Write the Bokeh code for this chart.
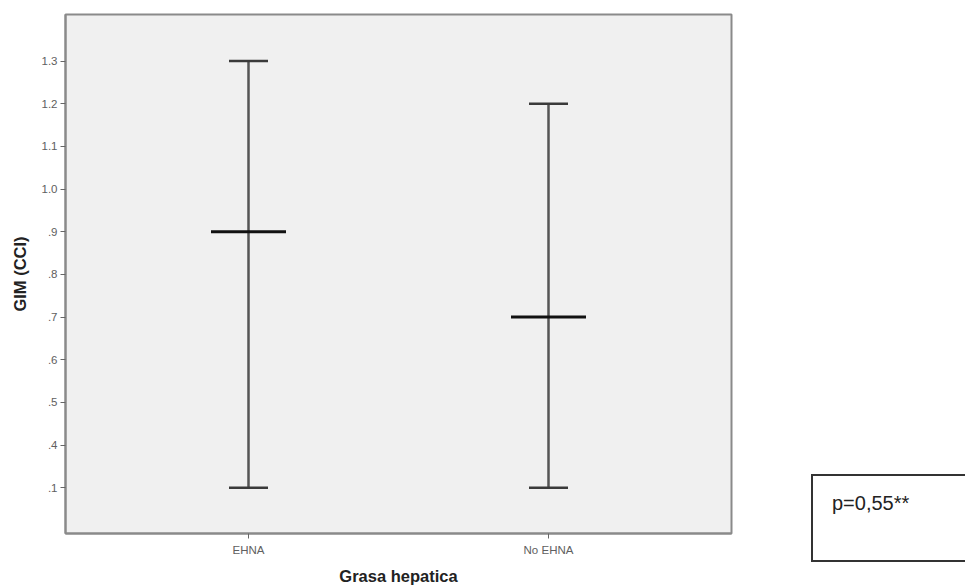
from bokeh.plotting import figure
from bokeh.models import FactorRange, Range1d, FixedTicker, Div
from bokeh.layouts import row
from bokeh.embed import file_html
from bokeh.resources import INLINE

# ---- data ----
groups = ["EHNA", "No EHNA"]
means = [0.9, 0.7]
upper = [1.3, 1.2]
lower = [0.1, 0.1]
y_tick_labels = ["1.3", "1.2", "1.1", "1.0", ".9", ".8", ".7", ".6", ".5", ".4", ".1"]
y_tick_values = [1.3, 1.2, 1.1, 1.0, 0.9, 0.8, 0.7, 0.6, 0.5, 0.4, 0.1]
annotation_text = "p=0,55**"
x_title = "Grasa hepatica"
y_title = "GIM (CCI)"

# the axis places its ticks evenly: map each tick value to its slot on the axis
slot_of = {v: i for i, v in enumerate(reversed(y_tick_values))}
ys_mean = [slot_of[v] for v in means]
ys_up = [slot_of[v] for v in upper]
ys_lo = [slot_of[v] for v in lower]

FONT = "Liberation Sans"

p = figure(width=760, height=588, output_backend="svg", toolbar_location=None,
           x_range=FactorRange(*groups, range_padding=0.11, range_padding_units="absolute"),
           y_range=Range1d(-1.07, 11.09),
           min_border_left=65, min_border_right=29, min_border_top=14, min_border_bottom=55)

p.background_fill_color = "#f0f0f0"
p.border_fill_color = "white"
p.outline_line_color = "#8a8a8a"
p.outline_line_width = 2
p.xgrid.visible = False
p.ygrid.visible = False

for ax in (p.xaxis[0], p.yaxis[0]):
    ax.axis_line_color = "#8a8a8a"
    ax.axis_line_width = 2
    ax.major_tick_line_color = "#666666"
    ax.major_tick_line_width = 1
    ax.major_tick_out = 5
    ax.major_tick_in = 0
    ax.minor_tick_line_color = None
    ax.major_label_text_font = FONT
    ax.major_label_text_color = "#606060"
    ax.major_label_text_font_size = "11.5px"
    ax.axis_label_text_font = FONT
    ax.axis_label_text_font_style = "bold"
    ax.axis_label_text_font_size = "16.5px"
    ax.axis_label_text_color = "#222222"

p.yaxis[0].ticker = FixedTicker(ticks=list(range(len(y_tick_values))))
p.yaxis[0].major_label_overrides = {slot_of[v]: lab for v, lab in zip(y_tick_values, y_tick_labels)}
p.yaxis[0].axis_label = y_title
p.yaxis[0].axis_label_standoff = 10
p.yaxis[0].major_label_standoff = 3
p.xaxis[0].axis_label = x_title
p.xaxis[0].axis_label_standoff = 8
p.xaxis[0].major_label_standoff = 5

# whiskers
p.segment(x0=groups, y0=ys_lo, x1=groups, y1=ys_up, line_color="#555555", line_width=2.5)
p.dash(x=groups, y=ys_up, size=39, line_color="#3a3a3a", line_width=2.5)
p.dash(x=groups, y=ys_lo, size=39, line_color="#3a3a3a", line_width=2.5)
# means
p.dash(x=groups, y=ys_mean, size=75, line_color="#111111", line_width=3)

# annotation box (outside the plot frame)
box = Div(
    text=(f'<div style="margin-top:474px; margin-left:51px; width:190px; height:84px; '
          f'border:2px solid #333; background:white; box-sizing:content-box; '
          f'font-family:\'Liberation Sans\'; font-size:20px; color:#222; '
          f'padding:0; overflow:hidden;">'
          f'<div style="padding-top:13px; padding-left:19px;">{annotation_text}</div></div>'),
    width=205, height=588, styles={"overflow": "hidden", "margin": "0", "padding": "0"})

layout = row(p, box, spacing=0)

open("out.html", "w").write(file_html(layout, INLINE))
